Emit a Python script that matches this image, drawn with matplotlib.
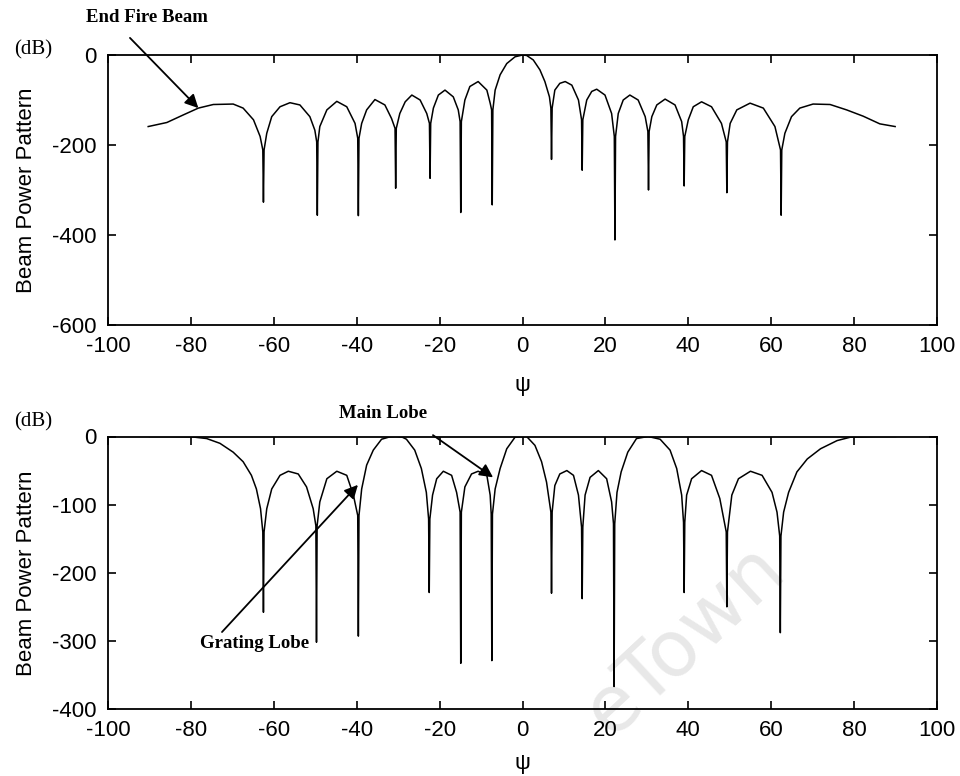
import matplotlib
matplotlib.use("Agg")
import matplotlib.pyplot as plt
import numpy as np

# ---- data (psi in degrees, pattern in dB) ----
# top panel: smooth part of the curve (lobes and the cusp at each null)
psi_top = [-90.3, -85.8, -81.8, -78.2, -74.6, -69.8, -67.4, -64.9, -63.3, -62.65,
           -62.35, -61.7, -60.5, -58.5, -56.1, -53.7, -51.3, -50.1, -49.65,
           -49.35, -48.9, -47.2, -44.8, -42.4, -40.4, -39.75,
           -39.45, -38.8, -37.6, -35.6, -33.2, -31.6, -30.75,
           -30.45, -29.6, -28.3, -26.7, -24.7, -23.1, -22.45,
           -22.15, -21.5, -20.3, -18.7, -16.7, -15.5, -15.05,
           -14.75, -13.9, -12.7, -10.7, -8.6, -7.8, -7.45,
           -7.15, -6.6, -5.4, -3.8, -1.8, 0.0, 1.0, 2.6, 4.2, 5.4, 6.5, 6.85,
           7.15, 7.8, 9.0, 10.3, 11.9, 13.5, 14.25,
           14.55, 15.5, 16.7, 17.9, 19.9, 21.5, 22.15,
           22.45, 23.1, 24.3, 25.9, 27.9, 29.6, 30.25,
           30.55, 31.2, 32.4, 34.4, 36.8, 38.4, 38.85,
           39.15, 40.0, 41.2, 43.2, 45.6, 48.0, 49.15,
           49.45, 50.1, 51.7, 54.9, 58.1, 60.9, 62.25,
           62.55, 63.3, 64.9, 66.9, 70.1, 74.2, 78.2, 82.2, 86.2, 89.9]
db_top = [-159, -150, -133, -118, -110, -109, -118, -144, -181, -211,
          -211, -174, -137, -115, -106, -111, -137, -167, -193,
          -193, -159, -122, -103, -115, -152, -185,
          -185, -152, -122, -99, -111, -141, -163,
          -163, -130, -104, -89, -100, -130, -152,
          -152, -118, -89, -78, -93, -122, -148,
          -148, -100, -70, -59, -78, -107, -122,
          -122, -78, -44, -19, -4, 0, -1, -11, -33, -59, -93, -118,
          -118, -78, -63, -59, -67, -100, -144,
          -144, -100, -81, -76, -89, -130, -181,
          -181, -130, -100, -89, -100, -137, -170,
          -170, -137, -111, -98, -111, -148, -181,
          -181, -144, -115, -104, -115, -152, -193,
          -193, -152, -122, -107, -118, -159, -211,
          -211, -174, -137, -118, -109, -110, -122, -136, -153, -159]
# top panel: bottom of each null spike
null_psi_top = [-62.5, -49.5, -39.6, -30.6, -22.3, -14.9, -7.3,
                7.0, 14.4, 22.3, 30.4, 39.0, 49.3, 62.4]
null_db_top = [-327, -356, -357, -296, -274, -350, -333,
               -232, -256, -411, -300, -291, -306, -356]

# bottom panel
psi_bot = [-90.0, -85.0, -79.8, -76.2, -73.0, -69.8, -67.4, -65.4, -64.2, -63.2, -62.65,
           -62.35, -61.7, -60.5, -58.5, -56.5, -54.1, -52.1, -50.5, -49.85,
           -49.55, -48.9, -47.2, -44.8, -42.4, -40.8, -39.75,
           -39.45, -38.8, -37.6, -36.0, -34.0, -32.0, -30.5, -29.0, -28.0, -26.0,
           -24.4, -23.2, -22.65,
           -22.35, -21.7, -20.7, -19.1, -17.1, -15.9, -15.05,
           -14.75, -13.9, -12.3, -10.7, -8.6, -7.8, -7.55,
           -7.25, -6.6, -5.4, -3.8, -1.8, 0.0, 1.0, 3.0, 4.6, 5.8, 6.85,
           7.15, 7.8, 9.0, 10.7, 12.3, 13.5, 14.25,
           14.55, 15.1, 16.3, 18.3, 20.3, 21.5, 21.95,
           22.25, 22.8, 23.8, 25.4, 27.5, 30.3, 33.2, 35.6, 37.2, 38.4, 38.85,
           39.15, 39.6, 40.8, 43.2, 45.6, 47.6, 49.15,
           49.45, 50.5, 52.1, 55.0, 57.8, 60.2, 61.4, 62.05,
           62.35, 63.0, 64.2, 66.2, 68.7, 71.9, 75.9, 79.1, 85.0, 90.0]
db_bot = [0, 0, -0.5, -3, -10, -23, -37, -57, -77, -106, -140,
          -140, -106, -77, -57, -51, -55, -74, -106, -131,
          -131, -96, -62, -51, -57, -86, -116,
          -116, -77, -42, -20, -4, -0.5, 0, -1, -4, -20,
          -47, -82, -121,
          -121, -86, -62, -51, -57, -82, -111,
          -111, -74, -55, -51, -57, -86, -114,
          -114, -77, -47, -18, -1, 0, 0, -13, -37, -67, -111,
          -111, -72, -55, -50, -57, -86, -133,
          -133, -86, -60, -50, -62, -96, -128,
          -128, -82, -52, -23, -3, 0, -4, -20, -47, -86, -126,
          -126, -86, -62, -50, -57, -91, -140,
          -140, -86, -62, -51, -57, -82, -111, -146,
          -146, -111, -82, -52, -33, -18, -6, -1, 0, 0]
null_psi_bot = [-62.5, -49.7, -39.6, -22.5, -14.9, -7.4,
                7.0, 14.4, 22.1, 39.0, 49.3, 62.2]
null_db_bot = [-258, -302, -293, -229, -333, -329,
               -230, -238, -367, -229, -250, -288]

xticks = list(range(-100, 101, 20))
yticks_top = [0, -200, -400, -600]
yticks_bot = [0, -100, -200, -300, -400]


def merged(psi, db, npsi, ndb):
    x = np.concatenate([psi, npsi])
    y = np.concatenate([db, ndb])
    order = np.argsort(x, kind="stable")
    return x[order], y[order]


plt.rcParams['font.family'] = ['Liberation Sans', 'DejaVu Sans']
plt.rcParams['axes.unicode_minus'] = False
W, H = 960, 776
fig = plt.figure(figsize=(W / 100, H / 100), dpi=100)

ax1 = fig.add_axes([108 / W, 1 - 325 / H, 829 / W, 270 / H])
ax2 = fig.add_axes([108 / W, 1 - 709 / H, 829 / W, 272.5 / H])

panels = [
    (ax1, merged(psi_top, db_top, null_psi_top, null_db_top), yticks_top, (-600, 0), -0.185),
    (ax2, merged(psi_bot, db_bot, null_psi_bot, null_db_bot), yticks_bot, (-400, 0), -0.16),
]
for ax, (x, y), yt, ylim, xlab_y in panels:
    ax.plot(x, y, color='black', lw=1.1)
    ax.set_xlim(-100, 100)
    ax.set_ylim(*ylim)
    ax.set_xticks(xticks)
    ax.set_yticks(yt)
    ax.tick_params(direction='in', top=True, right=True, length=6, width=1.2,
                   labelsize=16, pad=8)
    for s in ax.spines.values():
        s.set_linewidth(1.3)
    ax.set_ylabel('Beam Power Pattern', fontsize=16)
    ax.yaxis.set_label_coords(-0.086, 0.5)
    ax.set_xlabel('ψ', fontsize=16)
    ax.xaxis.set_label_coords(0.5, xlab_y)

serif = dict(family='Liberation Serif')
fig.text(33 / W, 1 - 50 / H, '(dB)', fontsize=15, ha='center', va='center', **serif)
fig.text(33 / W, 1 - 422 / H, '(dB)', fontsize=15, ha='center', va='center', **serif)
fig.text(147 / W, 1 - 17 / H, 'End Fire Beam', fontsize=13.5, fontweight='bold',
         ha='center', va='center', **serif)
fig.text(383 / W, 1 - 413 / H, 'Main Lobe', fontsize=13.5, fontweight='bold',
         ha='center', va='center', **serif)
fig.text(255 / W, 1 - 644 / H, 'Grating Lobe', fontsize=13.5, fontweight='bold',
         ha='center', va='center', **serif)

arrow = dict(arrowstyle='-|>', mutation_scale=20, lw=1.3, color='black',
             shrinkA=0, shrinkB=0)
ax1.annotate('', xy=(-78.2, -118), xytext=(-94.7, 38), arrowprops=arrow,
             annotation_clip=False)
ax2.annotate('', xy=(-7.1, -60), xytext=(-21.6, 2), arrowprops=arrow,
             annotation_clip=False)
ax2.annotate('', xy=(-39.7, -71), xytext=(-72.5, -287), arrowprops=arrow,
             annotation_clip=False)

ax2.text(685 / W, 1 - 640 / H, 'eTown', transform=fig.transFigure, fontsize=56,
         rotation=43, color='#e8e8e8', ha='center', va='center', zorder=0,
         clip_on=False, family='DejaVu Sans')

fig.savefig('out.png', dpi=100)
